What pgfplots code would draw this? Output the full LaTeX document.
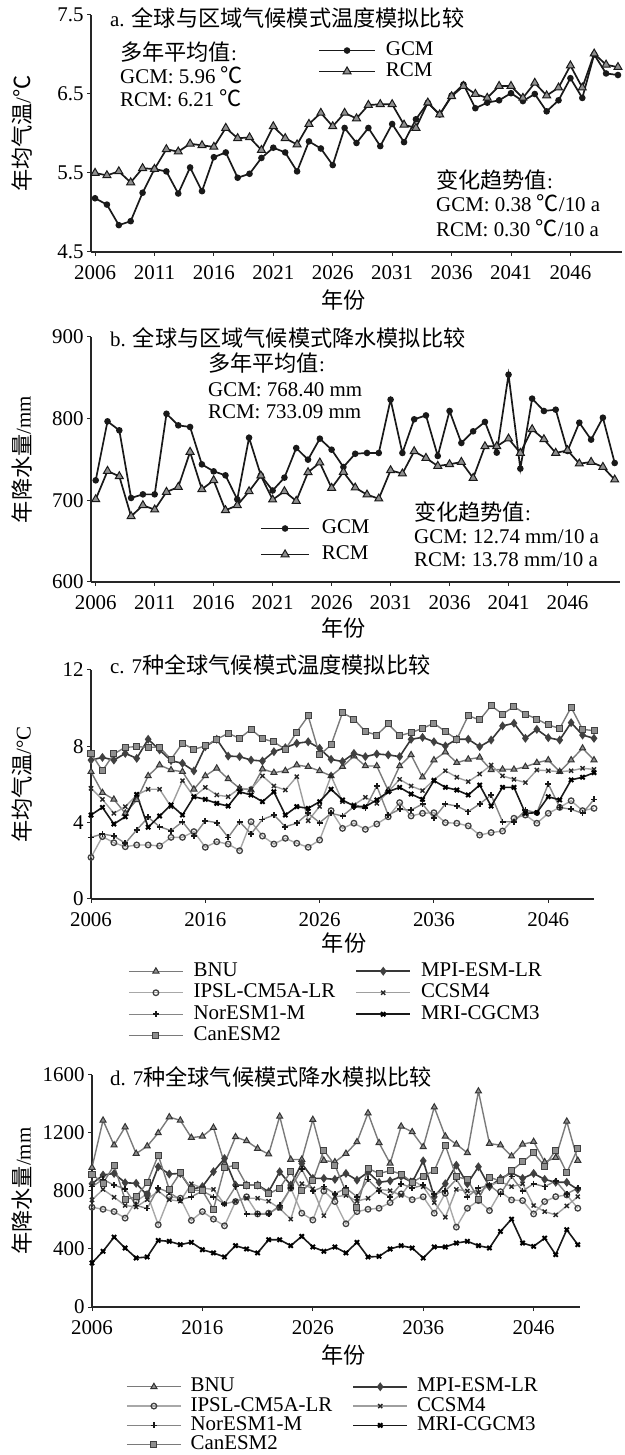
\documentclass[border=0pt]{standalone}
\usepackage{pgfplots}
\pgfplotsset{compat=1.18}
\usepackage{pgfplotstable}
\usepackage{fontspec}
\setmainfont{Liberation Serif}
\newfontfamily\cjk[Scale=1.06]{Noto Sans CJK SC}

\definecolor{lnBNU}{gray}{0.48}
\definecolor{lnIPSL}{gray}{0.66}
\definecolor{lnNOR}{gray}{0.52}
\definecolor{lnCAN}{gray}{0.48}
\definecolor{lnMPI}{gray}{0.22}
\definecolor{lnCCSM}{gray}{0.62}
\definecolor{lnMRI}{gray}{0.10}
\definecolor{mkfill}{gray}{0.56}

\pgfplotstableread{
year gcm rcm
2006 5.18 5.50
2007 5.10 5.47
2008 4.84 5.52
2009 4.89 5.38
2010 5.25 5.56
2011 5.55 5.55
2012 5.52 5.80
2013 5.24 5.77
2014 5.57 5.87
2015 5.27 5.85
2016 5.70 5.83
2017 5.76 6.07
2018 5.44 5.94
2019 5.49 5.95
2020 5.69 5.79
2021 5.82 6.09
2022 5.76 5.94
2023 5.52 5.86
2024 5.90 6.12
2025 5.81 6.26
2026 5.60 6.09
2027 6.07 6.26
2028 5.88 6.19
2029 6.07 6.36
2030 5.84 6.37
2031 6.12 6.37
2032 5.89 6.11
2033 6.18 6.07
2034 6.39 6.39
2035 6.24 6.24
2036 6.48 6.47
2037 6.62 6.60
2038 6.32 6.50
2039 6.39 6.45
2040 6.42 6.60
2041 6.51 6.60
2042 6.41 6.45
2043 6.50 6.64
2044 6.28 6.48
2045 6.42 6.58
2046 6.70 6.86
2047 6.45 6.58
2048 7.00 7.01
2049 6.76 6.87
2050 6.74 6.84
}\tabA

\pgfplotstableread{
year gcm rcm
2006 724.5 701.2
2007 796.7 735.9
2008 785.7 729.4
2009 702.9 680.4
2010 707.3 693.9
2011 707.3 688.6
2012 806.0 710.2
2013 791.8 716.3
2014 789.8 759.2
2015 744.0 713.5
2016 735.5 724.5
2017 730.6 687.8
2018 701.2 693.9
2019 776.7 711.0
2020 730.6 730.2
2021 712.0 700.8
2022 727.8 711.0
2023 764.0 699.2
2024 749.8 734.3
2025 775.5 746.1
2026 762.0 715.1
2027 740.8 734.7
2028 757.0 715.5
2029 758.0 706.9
2030 758.0 702.0
2031 823.3 736.7
2032 758.0 732.7
2033 799.2 760.0
2034 804.0 751.8
2035 754.3 742.0
2036 809.4 744.1
2037 770.2 746.9
2038 784.5 727.3
2039 796.0 766.1
2040 758.4 766.1
2041 853.9 775.5
2042 738.8 758.0
2043 824.5 787.0
2044 809.4 774.7
2045 811.0 758.0
2046 760.4 761.2
2047 795.1 744.9
2048 774.3 746.9
2049 801.2 740.8
2050 745.7 725.3
}\tabB

\pgfplotstableread{
year bnu ipsl nor can mpi ccsm mri
2006 6.67 2.18 3.23 7.63 7.28 5.80 4.40
2007 5.57 3.27 3.41 6.72 7.42 5.22 4.80
2008 5.22 2.95 3.30 7.60 7.28 4.49 3.93
2009 4.49 2.74 2.92 7.95 7.63 4.84 4.31
2010 5.19 2.83 3.62 7.98 7.37 5.45 5.48
2011 6.45 2.83 4.28 7.95 8.37 5.75 3.76
2012 7.02 2.78 3.79 7.95 7.81 5.75 4.35
2013 6.76 3.23 3.58 7.32 7.25 4.84 4.93
2014 6.67 3.23 4.05 8.16 7.11 6.20 4.40
2015 5.75 3.53 3.30 7.84 6.71 5.36 5.36
2016 6.45 2.71 4.10 8.02 7.98 5.85 5.22
2017 6.85 3.00 4.00 8.37 8.37 5.45 5.01
2018 6.29 2.88 3.23 8.68 7.49 5.36 4.87
2019 5.80 2.53 4.05 8.42 7.46 5.80 5.62
2020 5.71 4.05 3.41 8.89 7.28 5.75 5.45
2021 6.81 3.30 4.17 8.40 7.23 6.45 5.10
2022 6.62 2.88 4.40 8.23 7.72 5.92 5.62
2023 6.72 3.18 3.79 7.84 7.93 5.71 4.40
2024 7.02 2.92 3.97 8.75 8.16 6.41 4.84
2025 6.93 2.71 4.49 9.59 8.24 4.10 4.75
2026 6.71 3.09 4.00 7.55 7.90 4.85 5.10
2027 6.45 4.63 4.49 8.07 7.32 6.45 5.75
2028 6.93 3.70 4.35 9.76 7.20 5.10 5.19
2029 7.49 3.97 4.84 9.43 7.63 4.93 4.87
2030 6.97 3.65 4.75 8.77 7.46 5.33 4.84
2031 6.97 3.93 5.92 8.59 7.60 5.01 5.19
2032 5.68 4.31 4.40 9.17 7.55 5.62 5.62
2033 6.97 5.05 4.70 8.56 7.46 6.27 5.85
2034 7.55 4.35 4.66 8.72 8.37 5.92 5.50
2035 6.38 4.49 4.98 8.94 8.47 5.68 5.22
2036 7.28 4.52 4.23 9.21 8.24 6.24 6.20
2037 7.70 4.00 4.98 8.77 8.02 6.72 5.85
2038 7.14 3.97 4.87 8.37 8.37 6.38 5.71
2039 7.32 3.83 4.58 9.61 8.37 6.15 5.45
2040 7.42 3.35 4.98 9.38 7.98 6.55 5.97
2041 6.76 3.48 5.45 10.13 8.33 7.02 4.87
2042 6.79 3.56 4.05 9.69 9.07 6.45 5.85
2043 6.79 4.23 4.05 10.08 9.21 6.27 5.85
2044 6.93 4.40 4.66 9.69 8.42 6.10 4.49
2045 7.14 3.97 4.52 9.43 8.89 6.76 4.52
2046 7.28 4.49 6.03 9.12 8.45 6.72 5.36
2047 6.67 4.80 4.80 8.94 8.33 6.67 5.19
2048 7.28 5.15 4.70 10.04 9.24 6.72 6.24
2049 7.90 4.63 4.49 8.89 8.59 6.85 6.38
2050 7.28 4.75 5.22 8.82 8.42 6.79 6.62
}\tabC

\pgfplotstableread{
year bnu ipsl nor can mpi ccsm mri
2006 962 688 830 917 850 738 304
2007 1287 674 880 853 910 811 384
2008 1116 658 840 978 921 757 482
2009 1241 613 815 740 857 700 407
2010 1058 730 700 761 853 690 338
2011 1109 780 680 857 770 740 345
2012 1200 567 820 1047 967 800 459
2013 1310 760 790 811 917 740 453
2014 1287 750 740 926 921 730 430
2015 1168 597 760 807 811 850 446
2016 1177 658 800 802 830 820 395
2017 1237 606 760 674 933 811 373
2018 990 560 710 960 1024 710 345
2019 1173 727 830 978 841 730 423
2020 1145 760 640 841 841 750 400
2021 1093 642 640 841 841 750 373
2022 1054 647 640 780 795 730 464
2023 1314 688 700 820 933 680 464
2024 1017 820 820 933 841 606 423
2025 1017 647 950 800 990 850 487
2026 1292 600 800 870 887 815 414
2027 1010 800 830 1081 887 630 384
2028 1000 727 780 978 880 760 414
2029 1058 574 820 795 921 770 373
2030 1138 658 760 688 875 730 446
2031 1337 674 880 956 930 750 345
2032 1132 681 800 921 860 811 349
2033 990 720 760 940 870 802 400
2034 1246 780 850 917 900 770 423
2035 1207 740 820 860 860 875 407
2036 1104 760 840 903 1008 830 338
2037 1378 647 780 940 760 720 414
2038 1177 784 800 1116 850 619 414
2039 1122 551 880 898 978 811 441
2040 1063 681 760 880 850 800 453
2041 1488 734 820 743 967 790 423
2042 1127 665 840 894 830 840 407
2043 1116 795 780 870 887 864 521
2044 1040 738 900 940 925 830 606
2045 1122 734 800 1001 887 850 441
2046 1140 642 850 1063 921 700 418
2047 1000 727 830 972 880 658 475
2048 1030 761 870 1081 860 635 361
2049 1280 773 780 926 860 697 533
2050 1010 681 820 1093 810 761 430
}\tabD

\newcommand{\fs}{\fontsize{21}{25}\selectfont}

\pgfplotsset{
  base/.style={
    scale only axis, clip=false,
    axis lines=left,
    axis line style={-, line width=1.4bp, black!85},
    tick style={black!85, line width=1bp},
    major tick length=4bp,
    tick align=outside,
    font=\fs,
    /pgf/number format/assume math mode=true,
    /pgf/number format/1000 sep={},
    xticklabel style={yshift=-6bp},
    legend cell align=left,
  },
  gcurve/.style={line width=1.7bp, black!90, mark=*, mark size=2.4bp, mark options={fill=black!90, draw=black!90}},
  rcurve/.style={line width=1.7bp, black!90, mark=triangle*, mark size=4.6bp, mark options={fill=mkfill, draw=black!90, line width=1bp}},
  legA/.style={legend image code/.code={\draw[mark repeat=2,mark phase=2,##1] plot coordinates {(0bp,0bp) (28bp,0bp) (56bp,0bp)};}},
  legB/.style={legend image code/.code={\draw[mark repeat=2,mark phase=2,##1] plot coordinates {(0bp,0bp) (24bp,0bp) (48bp,0bp)};}},
  legC/.style={legend image code/.code={\draw[mark repeat=2,mark phase=2,##1] plot coordinates {(0bp,0bp) (27bp,0bp) (54bp,0bp)};}},
  sBNU/.style={line width=1.4bp, lnBNU, mark=triangle*, mark size=3.5bp, mark options={fill=mkfill, draw=black!80, line width=1bp}},
  sIPSL/.style={line width=1.4bp, lnIPSL, mark=o, mark size=2.8bp, mark options={draw=black!75, fill=white, line width=1.3bp}},
  sNOR/.style={line width=1.4bp, lnNOR, mark=+, mark size=3.0bp, mark options={draw=black!90, line width=1.7bp}},
  sCAN/.style={line width=1.4bp, lnCAN, mark=square*, mark size=3.0bp, mark options={fill=mkfill, draw=black!75, line width=1bp}},
  sMPI/.style={line width=1.6bp, lnMPI, mark=diamond*, mark size=3.2bp, mark options={fill=black!75, draw=black!75}},
  sCCSM/.style={line width=1.4bp, lnCCSM, mark=x, mark size=2.9bp, mark options={draw=black!85, line width=1.4bp}},
  sMRI/.style={line width=1.6bp, lnMRI, mark=x, mark size=3.0bp, mark options={draw=black, line width=2bp}},
}

\begin{document}
\begin{tikzpicture}[font=\fs]
\path[use as bounding box] (0bp,0bp) rectangle (625bp,1455bp);

% ---------- panel a ----------
\begin{axis}[base, legA,
  at={(91bp,1203bp)}, anchor=south west,
  width=531bp, height=237bp,
  xmin=2005.66, xmax=2050.34, ymin=4.5, ymax=7.5,
  xtick={2006,2011,...,2046},
  ytick={4.5,5.5,6.5,7.5},
  yticklabel style={/pgf/number format/.cd, fixed, fixed zerofill, precision=1},
  ylabel={{\cjk 年均气温}/{\cjk ℃}},
  xlabel={\cjk 年份},
  every axis y label/.style={at={(axis description cs:-0.13,0.5)}, rotate=90, anchor=center},
  every axis x label/.style={at={(axis description cs:0.476,-0.2025)}, anchor=center},
  legend style={draw=none, fill=none, at={(0.4275,0.893)}, anchor=north west, inner sep=0pt,
    nodes={inner sep=0pt, text height=15bp, text depth=5bp},
    row sep=1bp, /tikz/every odd column/.append style={column sep=10bp}},
]
\addplot[gcurve] table[x=year, y=gcm] {\tabA};
\addlegendentry{GCM}
\addplot[rcurve] table[x=year, y=rcm] {\tabA};
\addlegendentry{RCM}
\end{axis}
\node[anchor=west, inner sep=0pt] at (110bp,1437bp) {a. {\cjk 全球与区域气候模式温度模拟比较}};
\node[anchor=west, inner sep=0pt] at (120bp,1403bp) {{\cjk 多年平均值}:};
\node[anchor=west, inner sep=0pt] at (120bp,1380bp) {GCM: 5.96 {\cjk ℃}};
\node[anchor=west, inner sep=0pt] at (120bp,1357bp) {RCM: 6.21 {\cjk ℃}};
\node[anchor=west, inner sep=0pt] at (436bp,1275bp) {{\cjk 变化趋势值}:};
\node[anchor=west, inner sep=0pt] at (436bp,1252bp) {GCM: 0.38 {\cjk ℃}/10 a};
\node[anchor=west, inner sep=0pt] at (436bp,1227bp) {RCM: 0.30 {\cjk ℃}/10 a};

% ---------- panel b ----------
\begin{axis}[base, legB,
  at={(91bp,873bp)}, anchor=south west,
  width=529bp, height=245bp,
  xmin=2005.6, xmax=2050.45, ymin=600, ymax=900,
  xtick={2006,2011,...,2046},
  ytick={600,700,800,900},
  ylabel={{\cjk 年降水量}/mm},
  xlabel={\cjk 年份},
  every axis y label/.style={at={(axis description cs:-0.13,0.5)}, rotate=90, anchor=center},
  every axis x label/.style={at={(axis description cs:0.478,-0.188)}, anchor=center},
  legend style={draw=none, fill=none, at={(0.3195,0.26)}, anchor=north west, inner sep=0pt,
    nodes={inner sep=0pt, text height=15bp, text depth=5bp},
    row sep=6bp, /tikz/every odd column/.append style={column sep=12bp}},
]
\addplot[gcurve] table[x=year, y=gcm] {\tabB};
\addlegendentry{GCM}
\addplot[rcurve] table[x=year, y=rcm] {\tabB};
\addlegendentry{RCM}
\end{axis}
\node[anchor=west, inner sep=0pt] at (110bp,1117bp) {b. {\cjk 全球与区域气候模式降水模拟比较}};
\node[anchor=west, inner sep=0pt] at (208bp,1092bp) {{\cjk 多年平均值}:};
\node[anchor=west, inner sep=0pt] at (208bp,1065bp) {GCM: 768.40 mm};
\node[anchor=west, inner sep=0pt] at (208bp,1043bp) {RCM: 733.09 mm};
\node[anchor=west, inner sep=0pt] at (414bp,943bp) {{\cjk 变化趋势值}:};
\node[anchor=west, inner sep=0pt] at (414bp,918bp) {GCM: 12.74 mm/10 a};
\node[anchor=west, inner sep=0pt] at (414bp,895bp) {RCM: 13.78 mm/10 a};

% ---------- panel c ----------
\begin{axis}[base, legC,
  at={(91bp,556bp)}, anchor=south west,
  width=503bp, height=229bp,
  xmin=2006, xmax=2050, ymin=0, ymax=12,
  xtick={2006,2016,...,2046},
  ytick={0,4,8,12},
  ylabel={{\cjk 年均气温}/°C},
  xlabel={\cjk 年份},
  every axis y label/.style={at={(axis description cs:-0.137,0.5)}, rotate=90, anchor=center},
  every axis x label/.style={at={(axis description cs:0.503,-0.192)}, anchor=center},
  legend columns=2,
  legend style={draw=none, fill=none, at={(0.0736,-0.271)}, anchor=north west, inner sep=0pt,
    nodes={inner sep=0pt, text height=15bp, text depth=5bp},
    row sep=1.5bp,
    /tikz/every odd column/.append style={column sep=10bp},
    /tikz/every even column/.append style={column sep=20bp}},
]
\addplot[sBNU] table[x=year, y=bnu] {\tabC};
\addlegendentry{BNU}
\addplot[sMPI] table[x=year, y=mpi] {\tabC};
\addlegendentry{MPI-ESM-LR}
\addplot[sIPSL] table[x=year, y=ipsl] {\tabC};
\addlegendentry{IPSL-CM5A-LR}
\addplot[sCCSM] table[x=year, y=ccsm] {\tabC};
\addlegendentry{CCSM4}
\addplot[sNOR] table[x=year, y=nor] {\tabC};
\addlegendentry{NorESM1-M}
\addplot[sMRI] table[x=year, y=mri] {\tabC};
\addlegendentry{MRI-CGCM3}
\addplot[sCAN] table[x=year, y=can] {\tabC};
\addlegendentry{CanESM2}
\end{axis}
\node[anchor=west, inner sep=0pt] at (110bp,790bp) {c. 7{\cjk 种全球气候模式温度模拟比较}};

% ---------- panel d ----------
\begin{axis}[base, legC,
  at={(92bp,148bp)}, anchor=south west,
  width=488bp, height=232bp,
  xmin=2006, xmax=2050.2, ymin=0, ymax=1600,
  xtick={2006,2016,...,2046},
  ytick={0,400,800,1200,1600},
  ylabel={{\cjk 年降水量}/mm},
  xlabel={\cjk 年份},
  every axis y label/.style={at={(axis description cs:-0.143,0.5)}, rotate=90, anchor=center},
  every axis x label/.style={at={(axis description cs:0.516,-0.207)}, anchor=center},
  legend columns=2,
  legend style={draw=none, fill=none, at={(0.0697,-0.302)}, anchor=north west, inner sep=0pt,
    nodes={inner sep=0pt, text height=14.5bp, text depth=4.5bp},
    row sep=0.3bp,
    /tikz/every odd column/.append style={column sep=9bp},
    /tikz/every even column/.append style={column sep=20bp}},
]
\addplot[sBNU] table[x=year, y=bnu] {\tabD};
\addlegendentry{BNU}
\addplot[sMPI] table[x=year, y=mpi] {\tabD};
\addlegendentry{MPI-ESM-LR}
\addplot[sIPSL] table[x=year, y=ipsl] {\tabD};
\addlegendentry{IPSL-CM5A-LR}
\addplot[sCCSM] table[x=year, y=ccsm] {\tabD};
\addlegendentry{CCSM4}
\addplot[sNOR] table[x=year, y=nor] {\tabD};
\addlegendentry{NorESM1-M}
\addplot[sMRI] table[x=year, y=mri] {\tabD};
\addlegendentry{MRI-CGCM3}
\addplot[sCAN] table[x=year, y=can] {\tabD};
\addlegendentry{CanESM2}
\end{axis}
\node[anchor=west, inner sep=0pt] at (110bp,378bp) {d. 7{\cjk 种全球气候模式降水模拟比较}};
\end{tikzpicture}
\end{document}
